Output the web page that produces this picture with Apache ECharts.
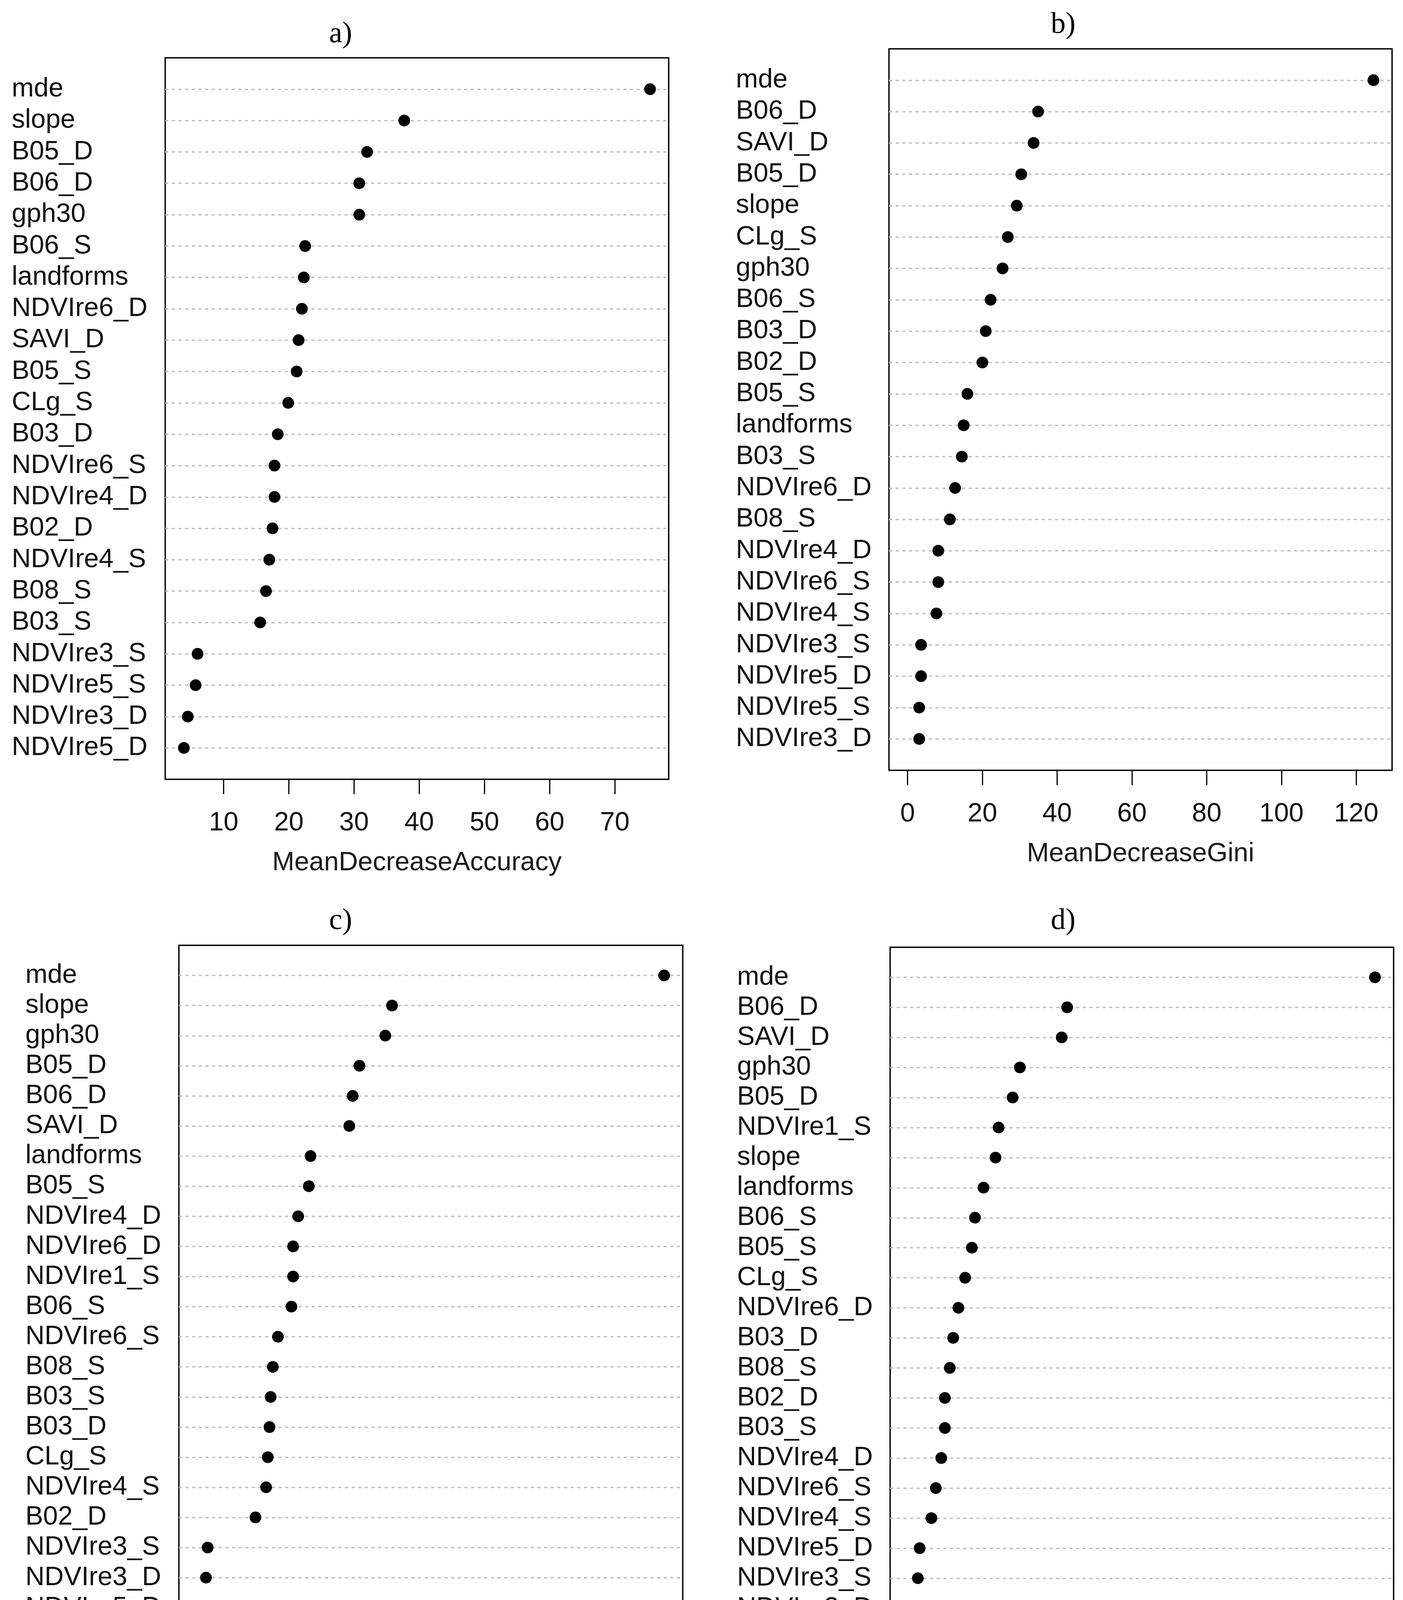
<!DOCTYPE html>
<html lang="en">
<head>
    <meta charset="UTF-8">
    <title>Variable importance</title>
    <style>
        html, body { margin: 0; padding: 0; background: #fff; }
    </style>
</head>
<body>
<script src="https://cdn.jsdelivr.net/npm/echarts@6/dist/echarts.min.js"></script>

<div id="main" style="width: 3592px;height:4520px;"></div>

<script type="text/javascript">
    // values, listed top to bottom
    var namesA = ['mde', 'slope', 'B05_D', 'B06_D', 'gph30', 'B06_S', 'landforms', 'NDVIre6_D', 'SAVI_D', 'B05_S', 'CLg_S',
        'B03_D', 'NDVIre6_S', 'NDVIre4_D', 'B02_D', 'NDVIre4_S', 'B08_S', 'B03_S', 'NDVIre3_S', 'NDVIre5_S', 'NDVIre3_D', 'NDVIre5_D'];
    var valuesA = [75.4, 37.7, 32.0, 30.8, 30.8, 22.5, 22.3, 22.0, 21.5, 21.2, 19.9,
        18.3, 17.8, 17.8, 17.5, 17.0, 16.5, 15.6, 6.0, 5.7, 4.5, 3.9];
    var ticksA = [10, 20, 30, 40, 50, 60, 70];

    var namesB = ['mde', 'B06_D', 'SAVI_D', 'B05_D', 'slope', 'CLg_S', 'gph30', 'B06_S', 'B03_D', 'B02_D', 'B05_S',
        'landforms', 'B03_S', 'NDVIre6_D', 'B08_S', 'NDVIre4_D', 'NDVIre6_S', 'NDVIre4_S', 'NDVIre3_S', 'NDVIre5_D', 'NDVIre5_S', 'NDVIre3_D'];
    var valuesB = [124.6, 34.9, 33.7, 30.4, 29.2, 26.8, 25.4, 22.2, 20.9, 20.0, 16.0,
        15.0, 14.5, 12.7, 11.3, 8.2, 8.2, 7.7, 3.6, 3.6, 3.1, 3.1];
    var ticksB = [0, 20, 40, 60, 80, 100, 120];

    var namesC = ['mde', 'slope', 'gph30', 'B05_D', 'B06_D', 'SAVI_D', 'landforms', 'B05_S', 'NDVIre4_D', 'NDVIre6_D', 'NDVIre1_S', 'B06_S',
        'NDVIre6_S', 'B08_S', 'B03_S', 'B03_D', 'CLg_S', 'NDVIre4_S', 'B02_D', 'NDVIre3_S', 'NDVIre3_D', 'NDVIre5_D', 'NDVIre5_S'];
    var valuesC = [87.4, 39.0, 37.8, 33.2, 32.0, 31.4, 24.5, 24.2, 22.3, 21.4, 21.4, 21.1,
        18.7, 17.8, 17.4, 17.2, 16.9, 16.6, 14.7, 6.2, 5.9, 5.6, 4.4];
    var ticksC = [20, 40, 60, 80];

    var namesD = ['mde', 'B06_D', 'SAVI_D', 'gph30', 'B05_D', 'NDVIre1_S', 'slope', 'landforms', 'B06_S', 'B05_S', 'CLg_S', 'NDVIre6_D',
        'B03_D', 'B08_S', 'B02_D', 'B03_S', 'NDVIre4_D', 'NDVIre6_S', 'NDVIre4_S', 'NDVIre5_D', 'NDVIre3_S', 'NDVIre3_D', 'NDVIre5_S'];
    var valuesD = [179.6, 61.0, 58.9, 42.8, 40.0, 34.6, 33.4, 28.8, 25.5, 24.3, 21.7, 19.1,
        17.1, 15.8, 13.9, 13.9, 12.5, 10.4, 8.7, 4.2, 3.5, 3.5, 3.5];
    var ticksD = [0, 50, 100, 150];

    // panel layout (px): plot box, label column, panel letter
    var panels = [
        {names: namesA, values: valuesA, ticks: ticksA, title: 'MeanDecreaseAccuracy', gini: false,
            box: [423, 148, 1712, 1995], labelX: 30, tag: 'a)', tagX: 872, tagY: 88},
        {names: namesB, values: valuesB, ticks: ticksB, title: 'MeanDecreaseGini', gini: true,
            box: [2276, 125, 3564, 1972], labelX: 1884, tag: 'b)', tagX: 2722, tagY: 64},
        {names: namesC, values: valuesC, ticks: ticksC, title: 'MeanDecreaseAccuracy', gini: false,
            box: [458, 2420, 1748, 4270], labelX: 65, tag: 'c)', tagX: 872, tagY: 2358},
        {names: namesD, values: valuesD, ticks: ticksD, title: 'MeanDecreaseGini', gini: true,
            box: [2279, 2425, 3568, 4271], labelX: 1887, tag: 'd)', tagX: 2722, tagY: 2358}
    ];

    var sans = '"Liberation Sans", Arial, sans-serif';
    var grids = [], xAxes = [], yAxes = [], series = [], graphics = [];

    panels.forEach(function (p, k) {
        var n = p.names.length;
        var lo = p.gini ? 0 : Math.min.apply(null, p.values);
        var hi = Math.max.apply(null, p.values);
        var pad = (hi - lo) * 0.04;   // R's default 4% axis extension

        grids.push({
            left: p.box[0], top: p.box[1],
            width: p.box[2] - p.box[0], height: p.box[3] - p.box[1],
            show: true, borderColor: '#000', borderWidth: 3.5, backgroundColor: 'transparent'
        });

        xAxes.push({
            type: 'value', gridIndex: k, position: 'bottom', min: lo - pad, max: hi + pad,
            name: p.title, nameLocation: 'middle', nameGap: 180,
            nameTextStyle: {fontFamily: sans, fontSize: 68, color: '#1a1a1a'},
            axisLine: {show: false, onZero: false},
            axisTick: {show: true, inside: false, length: 38, customValues: p.ticks, lineStyle: {color: '#000', width: 3}},
            axisLabel: {customValues: p.ticks, margin: 78, fontFamily: sans, fontSize: 68, color: '#111'},
            splitLine: {show: false}
        });

        yAxes.push({
            type: 'value', gridIndex: k, min: 0, max: n + 1, inverse: true,
            axisLine: {show: false, onZero: false}, axisTick: {show: false}, splitLine: {show: false},
            axisLabel: {
                customValues: p.names.map(function (_, i) { return i + 1; }),
                formatter: function (v) { return p.names[Math.round(v) - 1] || ''; },
                align: 'left', margin: p.box[0] - p.labelX,
                fontFamily: sans, fontSize: 68, color: '#111'
            }
        });

        // dotted guide line for every row
        series.push({
            type: 'scatter', xAxisIndex: k, yAxisIndex: k, data: [], z: 1, silent: true,
            markLine: {
                silent: true, symbol: ['none', 'none'], animation: false,
                label: {show: false},
                lineStyle: {color: '#bebebe', width: 3.5, type: [8, 9]},
                emphasis: {disabled: true},
                data: p.names.map(function (_, i) { return {yAxis: i + 1}; })
            }
        });

        series.push({
            type: 'scatter', xAxisIndex: k, yAxisIndex: k, z: 5,
            symbol: 'circle', symbolSize: 30,
            itemStyle: {color: '#000', opacity: 1},
            data: p.values.map(function (v, i) { return [v, i + 1]; })
        });

        graphics.push({
            type: 'text', x: p.tagX, y: p.tagY, z: 10,
            style: {
                text: p.tag, fill: '#000', align: 'center', verticalAlign: 'middle',
                font: '76px "Liberation Serif", "DejaVu Serif", serif'
            }
        });
    });

    var myChart = echarts.init(document.getElementById('main'));
    myChart.setOption({
        animation: false,
        backgroundColor: '#fff',
        grid: grids,
        xAxis: xAxes,
        yAxis: yAxes,
        series: series,
        graphic: graphics
    });
</script>
</body>
</html>
